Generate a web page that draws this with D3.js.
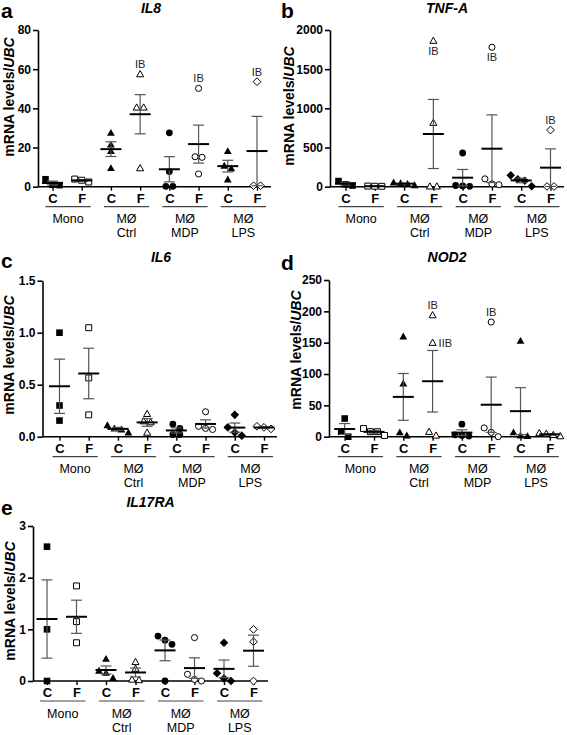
<!DOCTYPE html>
<html><head><meta charset="utf-8">
<script src="https://cdn.jsdelivr.net/npm/d3@7"></script>
<style>
body{margin:0;background:#fff;}
svg{display:block;font-family:"Liberation Sans",Arial,Helvetica,sans-serif;}
</style>
</head><body>
<svg id="chart" width="567" height="735"></svg>
<script>
// ---------- data ----------
const groupNames = ["Mono", "MØ", "MØ", "MØ"];
const groupSubNames = ["", "Ctrl", "MDP", "LPS"];
const conditionLabels = ["C", "F", "C", "F", "C", "F", "C", "F"];

const il8Ticks = [0, 20, 40, 60, 80];
const il8Values = [
  [3.8, 1.0, 0.8], [3.9, 2.4, 3.3],
  [27.5, 21.5, 18.2, 9.5], [57.5, 40.5, 40.5, 9.5],
  [27.5, 7.7, 0.2, 0.2], [50.2, 15.3, 15.0, 6.5],
  [18.2, 10.7, 9.4, 3.7], [53.6, 0.5, 0.5]
];
const il8Notes = [
  { cat: 3, value: 57.5, text: "IB", side: "above" },
  { cat: 5, value: 50.2, text: "IB", side: "above" },
  { cat: 7, value: 53.6, text: "IB", side: "above" }
];

const tnfTicks = [0, 500, 1000, 1500, 2000];
const tnfValues = [
  [72, 30, 15], [8, 5, 6],
  [55, 45, 35, 20], [1864, 817, 5, 5],
  [430, 15, 10, 5], [1780, 100, 25, 35],
  [145, 95, 75, 5], [723, 3, 3]
];
const tnfNotes = [
  { cat: 3, value: 1864, text: "IB", side: "below" },
  { cat: 5, value: 1780, text: "IB", side: "below" },
  { cat: 7, value: 723, text: "IB", side: "above" }
];

const il6Ticks = [0, 0.5, 1.0, 1.5];
const il6Values = [
  [1.0, 0.3, 0.155], [1.048, 0.565, 0.21],
  [0.11, 0.08, 0.07, 0.04], [0.22, 0.15, 0.14, 0.04],
  [0.12, 0.08, 0.02, 0.02], [0.24, 0.1, 0.08, 0.07],
  [0.21, 0.09, 0.04, 0.01], [0.1, 0.09, 0.075]
];

const nod2Ticks = [0, 50, 100, 150, 200, 250];
const nod2Values = [
  [29, 8, 0], [13, 8, 8, 2],
  [160, 85, 7, 2], [194, 150, 8, 2],
  [20, 3, 2, 1], [183, 14, 7, 0],
  [153, 7, 2, 1], [6, 5, 3, 1]
];
const nod2Notes = [
  { cat: 3, value: 194, text: "IB", side: "above" },
  { cat: 3, value: 150, text: "IIB", side: "right" },
  { cat: 5, value: 183, text: "IB", side: "above" }
];

const il17raTicks = [0, 1, 2, 3];
const il17raValues = [
  [2.6, 1.0, 0.0], [1.84, 1.15, 0.74],
  [0.43, 0.2, 0.16, 0.06], [0.37, 0.24, 0.03, 0.02],
  [0.87, 0.79, 0.71, 0.0], [0.84, 0.13, 0.03, 0.0],
  [0.74, 0.15, 0.05, 0.0], [1.0, 0.76, 0.0]
];

// ---------- layout / style config ----------
const S = "square", T = "triangle", O = "circle", D = "diamond";
const panels = [
  { letter: "a", title: "IL8", values: il8Values, ticks: il8Ticks, notes: il8Notes, fmt: d3.format("d"),
    shapes: [S, S, T, T, O, O, T, D],
    axisX: 38, axisEnd: 271, catFirst: 52.5, catLast: 257, top: 30, bottom: 186.7,
    letterPos: [1, 18], titlePos: [151, 13], ylab: [9, 97] },
  { letter: "b", title: "TNF-A", values: tnfValues, ticks: tnfTicks, notes: tnfNotes, fmt: d3.format("d"),
    shapes: [S, S, T, T, O, O, D, D],
    axisX: 330, axisEnd: 564, catFirst: 345.5, catLast: 550.5, top: 30, bottom: 186.7,
    letterPos: [281, 18], titlePos: [447, 13], ylab: [289, 106] },
  { letter: "c", title: "IL6", values: il6Values, ticks: il6Ticks, notes: [], fmt: d3.format(".1f"),
    shapes: [S, S, T, T, O, O, D, D],
    axisX: 42.5, axisEnd: 277, catFirst: 59.5, catLast: 264, top: 280.7, bottom: 436.7,
    letterPos: [1, 268], titlePos: [161, 262], ylab: [9, 355] },
  { letter: "d", title: "NOD2", values: nod2Values, ticks: nod2Ticks, notes: nod2Notes, fmt: d3.format("d"),
    shapes: [S, S, T, T, O, O, T, T],
    axisX: 329, axisEnd: 563, catFirst: 344.7, catLast: 549.8, top: 280, bottom: 436.7,
    letterPos: [281, 270], titlePos: [447, 262], ylab: [296, 350] },
  { letter: "e", title: "IL17RA", values: il17raValues, ticks: il17raTicks, notes: [], fmt: d3.format("d"),
    shapes: [S, S, T, T, O, O, D, D],
    axisX: 33, axisEnd: 268, catFirst: 47, catLast: 253.5, top: 526, bottom: 681,
    letterPos: [1, 515], titlePos: [150.5, 507], ylab: [10, 601] }
];

function shapePath(shape, open) {
  const k = open ? 0.9 : 1;
  switch (shape) {
    case "square": { const h = 3.3 * k; return `M${-h},${-h}H${h}V${h}H${-h}Z`; }
    case "circle": return d3.symbol(d3.symbolCircle, Math.PI * Math.pow(3.4 * k, 2))();
    case "triangle": { const w = 3.9 * k, t = 3.9 * k, b = 3.0 * k; return `M0,${-t}L${w},${b}L${-w},${b}Z`; }
    case "diamond": { const h = 4.3 * k; return `M0,${-h}L${h},0L0,${h}L${-h},0Z`; }
  }
}

// symmetric spreading of overlapping points (Prism-like scatter)
function spread(vals, y) {
  const pts = vals.map((v, i) => ({ v, i, py: y(v), dx: 0 }));
  const sorted = pts.slice().sort((a, b) => a.py - b.py);
  const clusters = [];
  sorted.forEach(p => {
    const last = clusters[clusters.length - 1];
    if (last && p.py - last[last.length - 1].py < 6) last.push(p);
    else clusters.push([p]);
  });
  clusters.forEach(c => {
    const n = c.length;
    c.forEach((p, j) => { p.dx = (j - (n - 1) / 2) * 7; });
  });
  return pts;
}

const svg = d3.select("#chart");

panels.forEach(P => {
  const g = svg.append("g");
  const idx = d3.range(8);
  const x = d3.scalePoint().domain(idx).range([P.catFirst, P.catLast]);
  const y = d3.scaleLinear().domain([0, d3.max(P.ticks)]).range([P.bottom, P.top]);

  // panel letter and title
  g.append("text").attr("x", P.letterPos[0]).attr("y", P.letterPos[1])
    .attr("font-size", 21).attr("font-weight", "bold").text(P.letter);
  g.append("text").attr("x", P.titlePos[0]).attr("y", P.titlePos[1])
    .attr("text-anchor", "middle").attr("font-size", 14).attr("font-weight", "bold")
    .attr("font-style", "italic").text(P.title);

  // y label
  const yl = g.append("text")
    .attr("transform", `translate(${P.ylab[0]},${P.ylab[1]}) rotate(-90)`)
    .attr("text-anchor", "middle").attr("dy", "0.35em")
    .attr("font-size", 14).attr("font-weight", "bold");
  yl.append("tspan").text("mRNA levels/");
  yl.append("tspan").attr("font-style", "italic").text("UBC");

  // y axis
  const ya = g.append("g").attr("transform", `translate(${P.axisX},0)`)
    .call(d3.axisLeft(y).tickValues(P.ticks).tickFormat(P.fmt).tickSize(5).tickSizeOuter(0).tickPadding(2));
  ya.select(".domain").attr("stroke", "#000").attr("stroke-width", 1.6);
  ya.selectAll(".tick line").attr("stroke", "#000").attr("stroke-width", 1.6);
  ya.selectAll(".tick text").attr("font-size", 12).attr("font-weight", "bold").attr("fill", "#000")
    .attr("font-family", "'Liberation Sans',Arial,sans-serif");

  // x axis
  const xa = g.append("g").attr("transform", `translate(0,${P.bottom})`)
    .call(d3.axisBottom(x).tickFormat(i => conditionLabels[i]).tickSize(4).tickSizeOuter(0).tickPadding(3));
  xa.select(".domain").remove();
  xa.selectAll(".tick line").attr("stroke", "#000").attr("stroke-width", 1.4);
  xa.selectAll(".tick text").attr("font-size", 13).attr("font-weight", "bold").attr("fill", "#000")
    .attr("font-family", "'Liberation Sans',Arial,sans-serif");
  g.append("line").attr("x1", P.axisX).attr("x2", P.axisEnd)
    .attr("y1", P.bottom).attr("y2", P.bottom).attr("stroke", "#000").attr("stroke-width", 1.6);

  // group underlines and names
  groupNames.forEach((name, gi) => {
    const xc = x(gi * 2), xf = x(gi * 2 + 1);
    g.append("line").attr("x1", xc - 7).attr("x2", xf + 9)
      .attr("y1", P.bottom + 20).attr("y2", P.bottom + 20)
      .attr("stroke", "#444").attr("stroke-width", 1.2);
    const mid = (xc + xf) / 2 + 1;
    g.append("text").attr("x", mid).attr("y", P.bottom + 36.5).attr("text-anchor", "middle")
      .attr("font-size", 12.5).text(name);
    if (groupSubNames[gi]) {
      g.append("text").attr("x", mid).attr("y", P.bottom + 50.5).attr("text-anchor", "middle")
        .attr("font-size", 12.5).text(groupSubNames[gi]);
    }
  });

  // points, means, SEM
  const placed = [];
  P.values.forEach((vals, ci) => {
    const open = ci % 2 === 1;
    const pts = spread(vals, y);
    placed[ci] = pts;
    g.selectAll(null).data(pts).enter().append("path")
      .attr("d", shapePath(P.shapes[ci], open))
      .attr("transform", d => `translate(${x(ci) + d.dx},${d.py})`)
      .attr("fill", open ? "#fff" : "#000")
      .attr("stroke", open ? "#000" : "none")
      .attr("stroke-width", open ? 1 : 0);

    const m = d3.mean(vals);
    const sem = d3.deviation(vals) / Math.sqrt(vals.length);
    const cx = x(ci);
    const lo = Math.max(0, m - sem), hi = m + sem;
    g.append("line").attr("x1", cx).attr("x2", cx).attr("y1", y(lo)).attr("y2", y(hi))
      .attr("stroke", "#555").attr("stroke-width", 1.2);
    [hi, lo].forEach(v => {
      if (v === 0) return;
      g.append("line").attr("x1", cx - 5.5).attr("x2", cx + 5.5).attr("y1", y(v)).attr("y2", y(v))
        .attr("stroke", "#555").attr("stroke-width", 1.2);
    });
    g.append("line").attr("x1", cx - 10.5).attr("x2", cx + 10.5).attr("y1", y(m)).attr("y2", y(m))
      .attr("stroke", "#000").attr("stroke-width", 2);
  });

  // annotations
  P.notes.forEach(n => {
    const p = placed[n.cat].find(q => q.v === n.value);
    const px = x(n.cat) + (p ? p.dx : 0), py = y(n.value);
    const t = g.append("text").attr("font-size", 11).attr("fill", "#222").text(n.text);
    if (n.side === "above") t.attr("x", px).attr("y", py - 6).attr("text-anchor", "middle");
    else if (n.side === "below") t.attr("x", px).attr("y", py + 14).attr("text-anchor", "middle");
    else t.attr("x", px + 6).attr("y", py + 4).attr("text-anchor", "start");
  });
});
</script>
</body></html>
